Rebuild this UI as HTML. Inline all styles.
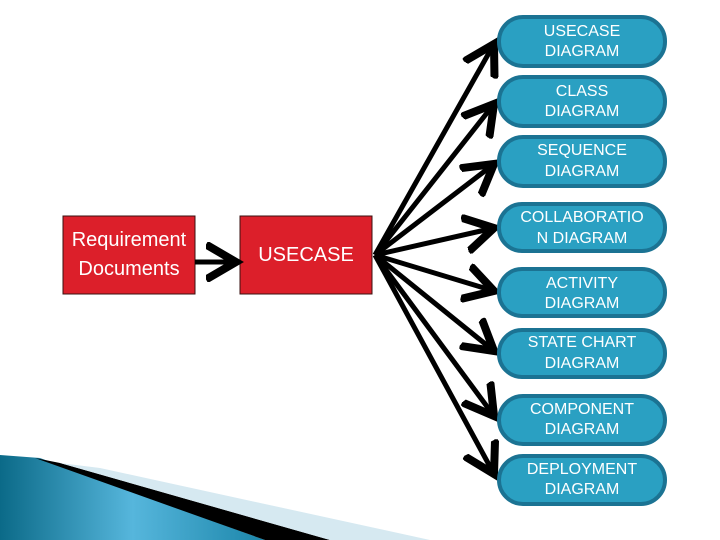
<!DOCTYPE html>
<html><head><style>body{margin:0;background:#fff}svg{display:block}</style></head><body>
<svg width="720" height="540" xmlns="http://www.w3.org/2000/svg" font-family="Liberation Sans, sans-serif">
<defs>
<linearGradient id="g" x1="0" y1="0" x2="1" y2="0"><stop offset="0" stop-color="#0b6a88"/><stop offset="0.5" stop-color="#56b6dc"/><stop offset="1" stop-color="#1c86aa"/></linearGradient>
<marker id="a" markerWidth="8" markerHeight="8" refX="6" refY="4" orient="auto" markerUnits="strokeWidth"><path d="M0,0.5 L6,4 L0,7.5" fill="none" stroke="#000" stroke-width="1.6"/></marker>
</defs>
<polygon points="0,455 40,458 265,540 0,540" fill="url(#g)"/>
<polygon points="35,458 60,463 330,540 265,540" fill="#000"/>
<polygon points="60,463 100,468 430,540 330,540" fill="#d6e9f1"/>
<rect x="63" y="216" width="132" height="78" fill="#dc1f2a" stroke="#3a1010"/>
<rect x="240" y="216" width="132" height="78" fill="#dc1f2a" stroke="#3a1010"/>
<g fill="#fff" font-size="20" text-anchor="middle">
<text x="129" y="246">Requirement</text><text x="129" y="275">Documents</text>
<text x="306" y="261">USECASE</text>
</g>
<line x1="195" y1="262" x2="236" y2="262" stroke="#000" stroke-width="5" marker-end="url(#a)"/>
<g stroke="#000" stroke-width="5" fill="none" marker-end="url(#a)">
<line x1="375" y1="255" x2="494" y2="44"/>
<line x1="375" y1="255" x2="494" y2="104"/>
<line x1="375" y1="255" x2="494" y2="164"/>
<line x1="375" y1="255" x2="494" y2="228"/>
<line x1="375" y1="255" x2="494" y2="291"/>
<line x1="375" y1="255" x2="494" y2="351"/>
<line x1="375" y1="255" x2="494" y2="416"/>
<line x1="375" y1="255" x2="494" y2="474"/>
</g>
<g fill="#2aa0c2" stroke="#1b7393" stroke-width="4">
<rect x="499" y="17" width="166" height="49" rx="24"/>
<rect x="499" y="77" width="166" height="49" rx="24"/>
<rect x="499" y="137" width="166" height="49" rx="24"/>
<rect x="499" y="204" width="166" height="47" rx="23"/>
<rect x="499" y="269" width="166" height="47" rx="23"/>
<rect x="499" y="330" width="166" height="47" rx="23"/>
<rect x="499" y="396" width="166" height="48" rx="24"/>
<rect x="499" y="456" width="166" height="48" rx="24"/>
</g>
<g fill="#fff" font-size="16" text-anchor="middle">
<text x="582" y="36">USECASE</text><text x="582" y="56">DIAGRAM</text>
<text x="582" y="96">CLASS</text><text x="582" y="116">DIAGRAM</text>
<text x="582" y="155">SEQUENCE</text><text x="582" y="176">DIAGRAM</text>
<text x="582" y="222">COLLABORATIO</text><text x="582" y="243">N DIAGRAM</text>
<text x="582" y="288">ACTIVITY</text><text x="582" y="308">DIAGRAM</text>
<text x="582" y="347">STATE CHART</text><text x="582" y="368">DIAGRAM</text>
<text x="582" y="414">COMPONENT</text><text x="582" y="434">DIAGRAM</text>
<text x="582" y="474">DEPLOYMENT</text><text x="582" y="494">DIAGRAM</text>
</g>
</svg>
</body></html>
